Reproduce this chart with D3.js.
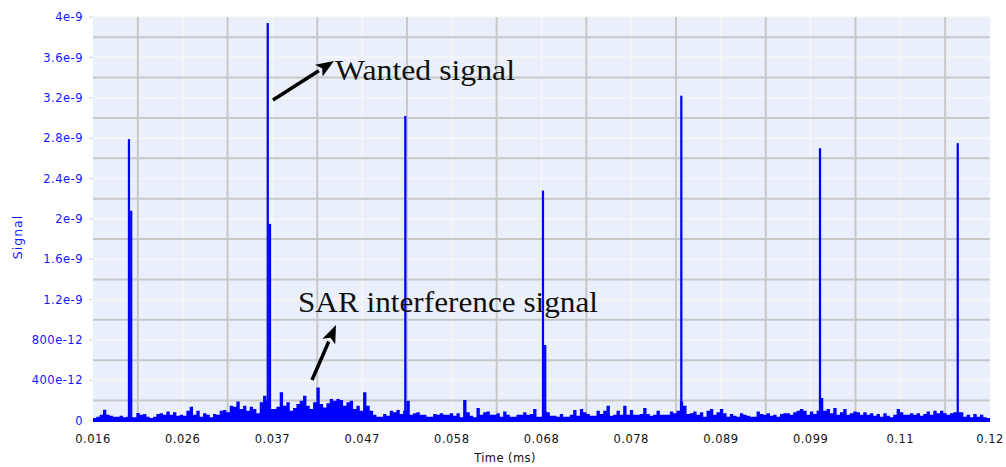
<!DOCTYPE html>
<html>
<head>
<meta charset="utf-8">
<script src="https://cdn.jsdelivr.net/npm/d3@7"></script>
<style>
  html, body { margin: 0; padding: 0; background: #ffffff; }
  svg { display: block; }
</style>
</head>
<body>
<svg id="chart" width="1006" height="467"></svg>
<script>
// ---- axis ticks ----
const xTickValues = [0.016, 0.0264, 0.0368, 0.0472, 0.0576, 0.068, 0.0784, 0.0888, 0.0992, 0.1096, 0.12];
const xTickLabels = ["0.016", "0.026", "0.037", "0.047", "0.058", "0.068", "0.078", "0.089", "0.099", "0.11", "0.12"];
const yTickValues = [0, 400e-12, 800e-12, 1.2e-9, 1.6e-9, 2e-9, 2.4e-9, 2.8e-9, 3.2e-9, 3.6e-9, 4e-9];
const yTickLabels = ["0", "400e-12", "800e-12", "1.2e-9", "1.6e-9", "2e-9", "2.4e-9", "2.8e-9", "3.2e-9", "3.6e-9", "4e-9"];

// ---- wanted pulses (time in ms, amplitude) ----
const pulseTimes = [0.02017, 0.03626, 0.05221, 0.06817, 0.08421, 0.10029, 0.11626];
const pulsePeaks = [2.79e-9, 3.94e-9, 3.02e-9, 2.28e-9, 3.22e-9, 2.70e-9, 2.75e-9];
// amplitude of the sample right after each peak (0 = none above the floor)
const pulseTails = [2.08e-9, 1.95e-9, 0, 0.75e-9, 0, 0, 0];
const pulseWidth = 0.00026; // ms per sample

// ---- SAR interference / noise floor, in units of 1e-12 ----
const noiseStart = 0.016;
const noiseEnd = 0.12;
const noiseLevels = [
  26, 40, 59, 109, 59, 50, 40, 40, 50, 33, 40, 33, 33, 76, 59, 66, 40, 26, 40, 66,
  73, 59, 92, 59, 83, 50, 59, 50, 99, 139, 59, 99, 40, 73, 59, 33, 66, 59, 99, 106,
  83, 149, 139, 191, 116, 149, 99, 139, 116, 73, 182, 248, 198, 116, 116, 139, 281, 149, 182, 99,
  125, 165, 198, 248, 149, 116, 182, 330, 165, 132, 172, 215, 198, 215, 205, 149, 182, 198, 116, 149,
  99, 281, 149, 99, 59, 40, 40, 66, 50,
  99, 83, 106, 66, 99, 198, 59, 73, 83, 59, 59, 40, 40, 66, 59, 73, 59, 59, 73, 50,
  73, 33, 205, 83, 50, 33, 125, 59, 83, 92, 59, 59, 73, 40, 92, 59, 40, 40, 59, 59,
  83, 59, 66, 116, 40, 40, 99, 83, 50, 50, 40, 66, 40, 40, 59, 106, 50, 116, 83, 66,
  50, 50, 99, 66, 99, 149, 50, 59, 99, 59, 149, 59, 106, 59, 59, 66, 125, 66, 50, 59,
  99, 59, 59, 59, 92, 73, 99, 191, 149, 66,
  73, 92, 59, 83, 40, 99, 116, 59, 83, 116, 73, 40, 66, 50, 40, 73, 59, 50, 40, 40,
  92, 66, 59, 73, 50, 59, 40, 66, 73, 73, 59, 83, 99, 116, 99, 59, 92, 66, 99, 224,
  99, 116, 73, 125, 59, 83, 116, 59, 73, 92, 83, 59, 83, 59, 73, 50, 66, 40, 73, 50,
  33, 59, 116, 83, 59, 59, 73, 59, 73, 50, 66, 92, 59, 99, 73, 99, 73, 59, 73, 83,
  83, 83, 40, 59, 33, 66, 40, 59, 33, 26
];
const noiseUnit = 1e-12;

// ---- annotations ----
const notes = [
  { text: "Wanted signal", x: 335, y: 80, len: 180, from: [273, 100], to: [334, 61] },
  { text: "SAR interference signal", x: 298, y: 312, len: 300, from: [312, 380], to: [336, 325] }
];

// ---- layout ----
const width = 1006, height = 467;
const plot = { left: 93, right: 990, top: 17, bottom: 420.7 };

const svg = d3.select("#chart");
const x = d3.scaleLinear().domain([noiseStart, noiseEnd]).range([plot.left, plot.right]);
const y = d3.scaleLinear().domain([0, 4e-9]).range([plot.bottom, plot.top]);

// plot background
svg.append("rect")
  .attr("x", plot.left).attr("y", plot.top)
  .attr("width", plot.right - plot.left).attr("height", plot.bottom - plot.top)
  .attr("fill", "#eaf0fb");

// grid: light lines on ticks, darker lines half way between
const yMid = d3.pairs(yTickValues).map(([a, b]) => (a + b) / 2);
const xMid = d3.pairs(xTickValues).map(([a, b]) => (a + b) / 2);
const grid = svg.append("g");
grid.selectAll("line.hl").data(yTickValues.slice(1)).join("line")
  .attr("x1", plot.left).attr("x2", plot.right)
  .attr("y1", d => y(d)).attr("y2", d => y(d))
  .attr("stroke", "#f6f6f6").attr("stroke-width", 1.6);
grid.selectAll("line.vl").data(xTickValues.slice(1, -1)).join("line")
  .attr("y1", plot.top).attr("y2", plot.bottom)
  .attr("x1", d => x(d)).attr("x2", d => x(d))
  .attr("stroke", "#f6f6f6").attr("stroke-width", 1.6);
grid.selectAll("line.hd").data(yMid).join("line")
  .attr("x1", plot.left).attr("x2", plot.right)
  .attr("y1", d => y(d)).attr("y2", d => y(d))
  .attr("stroke", "#c8c8c8").attr("stroke-width", 2);
grid.selectAll("line.vd").data(xMid).join("line")
  .attr("y1", plot.top).attr("y2", plot.bottom)
  .attr("x1", d => x(d)).attr("x2", d => x(d))
  .attr("stroke", "#c8c8c8").attr("stroke-width", 2);

// noise floor as a stepped filled trace
const step = (noiseEnd - noiseStart) / noiseLevels.length;
const noisePts = noiseLevels.map((v, i) => ({ t: noiseStart + i * step, v: v * noiseUnit }));
noisePts.push({ t: noiseEnd, v: noiseLevels[noiseLevels.length - 1] * noiseUnit });
const area = d3.area()
  .x(d => x(d.t)).y0(y(0)).y1(d => y(d.v))
  .curve(d3.curveStepAfter);
svg.append("path").datum(noisePts)
  .attr("d", area)
  .attr("fill", "#0000ff");

// pulses: peak sample and following sample
const pulses = pulseTimes.map((t, i) => ({ t, peak: pulsePeaks[i], tail: pulseTails[i] }));
svg.append("g").selectAll("rect.peak").data(pulses).join("rect")
  .attr("x", d => x(d.t - pulseWidth / 2))
  .attr("width", d => x(d.t + pulseWidth / 2) - x(d.t - pulseWidth / 2))
  .attr("y", d => y(d.peak))
  .attr("height", d => y(0) - y(d.peak))
  .attr("fill", "#0000ff");
svg.append("g").selectAll("rect.tail").data(pulses.filter(d => d.tail > 0)).join("rect")
  .attr("x", d => x(d.t + pulseWidth / 2))
  .attr("width", d => x(d.t + pulseWidth * 1.5) - x(d.t + pulseWidth / 2))
  .attr("y", d => y(d.tail))
  .attr("height", d => y(0) - y(d.tail))
  .attr("fill", "#0000ff");

// zero baseline of the trace
svg.append("line")
  .attr("x1", plot.left).attr("x2", plot.right)
  .attr("y1", y(0)).attr("y2", y(0))
  .attr("stroke", "#0000ff").attr("stroke-width", 2.5);

// y axis: small ticks and blue labels
svg.append("g").selectAll("line").data(yTickValues).join("line")
  .attr("x1", plot.left - 4).attr("x2", plot.left)
  .attr("y1", d => y(d)).attr("y2", d => y(d))
  .attr("stroke", "#d4d4d4").attr("stroke-width", 1);
svg.append("g").selectAll("text").data(yTickValues).join("text")
  .attr("x", plot.left - 10)
  .attr("y", d => y(d))
  .attr("dy", "0.36em")
  .attr("text-anchor", "end")
  .attr("font-family", "DejaVu Sans, sans-serif")
  .attr("font-size", 11.5)
  .attr("letter-spacing", 0.5)
  .attr("fill", "#1414ff")
  .text((d, i) => yTickLabels[i]);

// x axis labels
svg.append("g").selectAll("text").data(xTickValues).join("text")
  .attr("x", d => x(d))
  .attr("y", plot.bottom + 22)
  .attr("text-anchor", "middle")
  .attr("font-family", "DejaVu Sans, sans-serif")
  .attr("font-size", 11.5)
  .attr("letter-spacing", 0.5)
  .attr("fill", "#111111")
  .text((d, i) => xTickLabels[i]);

// axis titles
svg.append("text")
  .attr("x", 505).attr("y", 462)
  .attr("text-anchor", "middle")
  .attr("font-family", "DejaVu Sans, sans-serif")
  .attr("font-size", 11.5)
  .attr("letter-spacing", 0.4)
  .attr("fill", "#111111")
  .text("Time (ms)");
svg.append("text")
  .attr("transform", "translate(22,237) rotate(-90)")
  .attr("text-anchor", "middle")
  .attr("font-family", "DejaVu Sans, sans-serif")
  .attr("font-size", 12.5)
  .attr("letter-spacing", 1)
  .attr("fill", "#1414ff")
  .text("Signal");

// callouts with arrows
function arrow(g, from, to) {
  const [x1, y1] = from, [x2, y2] = to;
  const ang = Math.atan2(y2 - y1, x2 - x1);
  const hl = 18, hw = 7;
  const bx = x2 - hl * Math.cos(ang), by = y2 - hl * Math.sin(ang);
  g.append("line")
    .attr("x1", x1).attr("y1", y1).attr("x2", bx).attr("y2", by)
    .attr("stroke", "#000").attr("stroke-width", 3.5);
  const px = -Math.sin(ang) * hw, py = Math.cos(ang) * hw;
  g.append("path")
    .attr("d", `M${x2},${y2}L${bx + px},${by + py}L${bx + 4 * Math.cos(ang)},${by + 4 * Math.sin(ang)}L${bx - px},${by - py}Z`)
    .attr("fill", "#000");
}
const ann = svg.append("g");
notes.forEach(n => {
  arrow(ann, n.from, n.to);
  ann.append("text")
    .attr("x", n.x).attr("y", n.y)
    .attr("font-family", "Liberation Serif, Times New Roman, serif")
    .attr("font-size", 29)
    .attr("textLength", n.len)
    .attr("lengthAdjust", "spacingAndGlyphs")
    .attr("fill", "#111111")
    .text(n.text);
});
</script>
</body>
</html>
